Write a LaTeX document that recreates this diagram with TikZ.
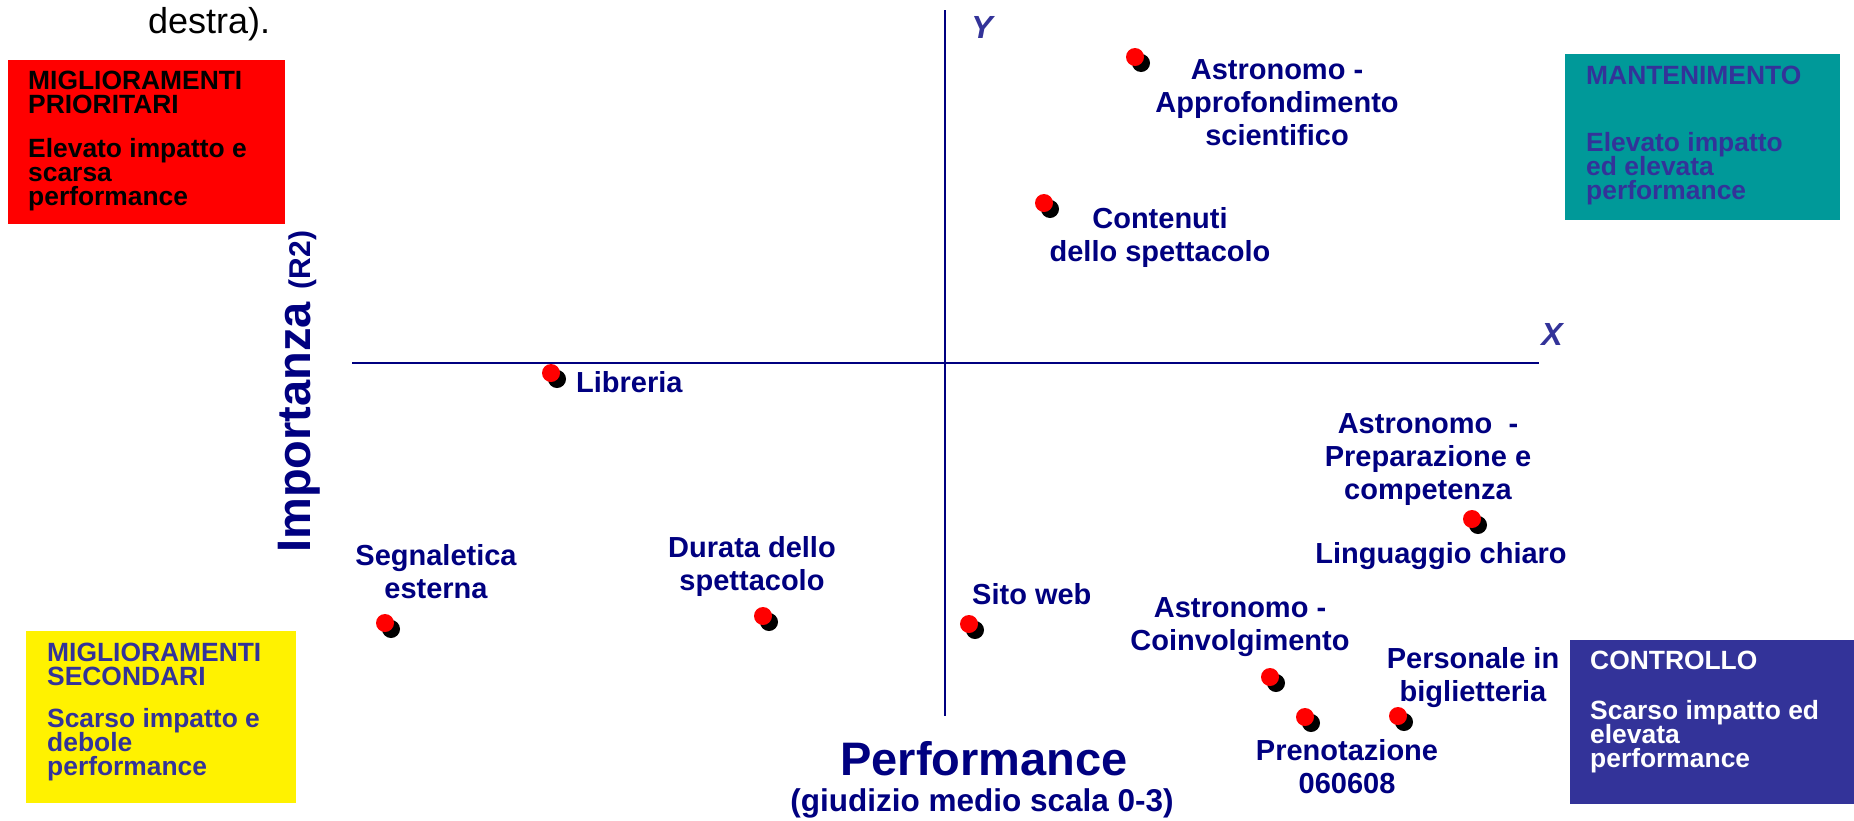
\documentclass[tikz,border=0pt]{standalone}
\usepackage{fontspec}
\setmainfont{Liberation Sans}
\usetikzlibrary{shadows}
\definecolor{navy}{RGB}{0,0,128}
\definecolor{slate}{RGB}{51,51,153}
\definecolor{tealbox}{RGB}{0,153,153}
\newcommand\cstack[1]{\vtop{\lineskiplimit=-100pt\halign{\hfil##\hfil\cr#1\crcr}}}
\newcommand\lstack[1]{\vtop{\lineskiplimit=-100pt\halign{##\hfil\cr#1\crcr}}}
\begin{document}
\begin{tikzpicture}[x=1pt,y=-1pt,
  every node/.style={inner sep=0pt},
  lbl/.style={font=\fontsize{29}{33}\selectfont\bfseries, text=navy, anchor=base},
  lbll/.style={lbl, anchor=base west},
  boxtxt/.style={font=\fontsize{26.4}{24.3}\selectfont\bfseries, anchor=base west},
  axis/.style={draw=navy, line width=1.5pt},
  axlbl/.style={font=\fontsize{32}{32}\selectfont\bfseries\itshape, text=slate, anchor=base},
  dot/.style={circle, fill=red, minimum size=18pt, inner sep=0pt,
    drop shadow={shadow xshift=6pt, shadow yshift=-6pt, fill=black, opacity=1}}]
\fill[white] (0,0) rectangle (1854,820);
\useasboundingbox (0,0) rectangle (1854,820);

% top text fragment
\node[anchor=base west, font=\fontsize{36}{36}\selectfont] (destra) at (148,33) {destra).};

% quadrant boxes
\fill[red] (8,60) rectangle (285,224);
\node[boxtxt, text=black] (t1) at (28,89) {\lstack{MIGLIORAMENTI\cr PRIORITARI}};
\node[boxtxt, text=black] (d1) at (28,157) {\lstack{Elevato impatto e\cr scarsa\cr performance}};

\fill[tealbox] (1565,54) rectangle (1840,220);
\node[boxtxt, text=slate] (t2) at (1586,84) {MANTENIMENTO};
\node[boxtxt, text=slate] (d2) at (1586,151) {\lstack{Elevato impatto\cr ed elevata\cr performance}};

\fill[yellow] (26,631) rectangle (296,803);
\node[boxtxt, text=slate] (t3) at (47,661) {\lstack{MIGLIORAMENTI\cr SECONDARI}};
\node[boxtxt, text=slate] (d3) at (47,727) {\lstack{Scarso impatto e\cr debole\cr performance}};

\fill[slate] (1570,640) rectangle (1854,804);
\node[boxtxt, text=white] (t4) at (1590,669) {CONTROLLO};
\node[boxtxt, text=white] (d4) at (1590,719) {\lstack{Scarso impatto ed\cr elevata\cr performance}};

% axes
\coordinate (ytop) at (945,10);
\coordinate (ybot) at (945,716);
\coordinate (xleft) at (352,363);
\coordinate (xright) at (1539,363);
\draw[axis] (ytop) -- (ybot);
\draw[axis] (xleft) -- (xright);
\node[axlbl] (Ylab) at (982,38) {Y};
\node[axlbl] (Xlab) at (1552,345) {X};

% axis titles
\node[rotate=90, anchor=base west, text=navy, font=\fontsize{47}{47}\selectfont\bfseries] (imp) at (310,553)
  {Importanza {\fontsize{30}{30}\selectfont(R2)}};
\node[anchor=base, text=navy, font=\fontsize{47}{47}\selectfont\bfseries] (perf) at (984,775) {Performance};
\node[anchor=base, text=navy, font=\fontsize{31.5}{31.5}\selectfont\bfseries] (perfsub) at (982,811) {(giudizio medio scala 0-3)};

% points
\node[dot] (p1) at (1135,57) {};
\node[dot] (p2) at (1044,203) {};
\node[dot] (p3) at (551,373) {};
\node[dot] (p4) at (385,623) {};
\node[dot] (p5) at (763,616) {};
\node[dot] (p6) at (969,624) {};
\node[dot] (p7) at (1270,677) {};
\node[dot] (p8) at (1305,717) {};
\node[dot] (p9) at (1398,716) {};
\node[dot] (p10) at (1472,519) {};

% labels
\node[lbl] (l1) at (1277,79) {\cstack{Astronomo -\cr Approfondimento\cr scientifico}};
\node[lbl] (l2) at (1160,228) {\cstack{Contenuti\cr dello spettacolo}};
\node[lbll] (l3) at (576,392) {Libreria};
\node[lbl] (l4) at (436,565) {\cstack{Segnaletica\cr esterna}};
\node[lbl] (l5) at (752,557) {\cstack{Durata dello\cr spettacolo}};
\node[lbll] (l6) at (972,604) {Sito web};
\node[lbl] (l7) at (1240,617) {\cstack{Astronomo -\cr Coinvolgimento}};
\node[lbl] (l8) at (1347,760) {\cstack{Prenotazione\cr 060608}};
\node[lbl] (l9) at (1473,668) {\cstack{Personale in\cr biglietteria}};
\node[lbl] (l10) at (1428,433) {\cstack{Astronomo\ \ -\cr Preparazione e\cr competenza}};
\node[lbl] (l11) at (1441,563) {Linguaggio chiaro};
\end{tikzpicture}
\end{document}
